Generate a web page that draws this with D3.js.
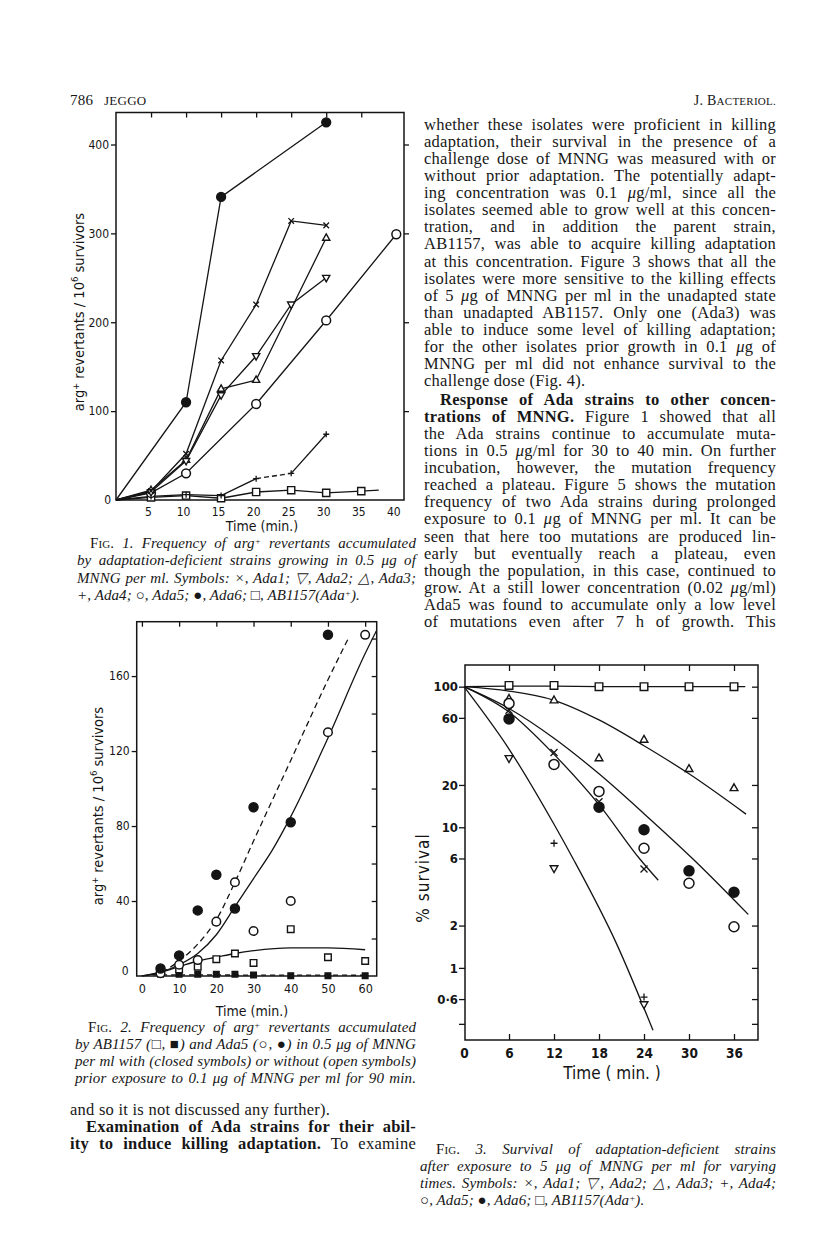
<!DOCTYPE html>
<html><head><meta charset="utf-8">
<script src="https://cdn.jsdelivr.net/npm/d3@7"></script>
<style>
body{margin:0;background:#fff;}
#page{position:relative;width:816px;height:1238px;overflow:hidden;background:#fff;}
#chart{position:absolute;left:0;top:0;}
.ln{position:absolute;font-family:"Liberation Serif","Times New Roman",serif;font-size:16.5px;letter-spacing:0.25px;line-height:17px;height:17px;color:#171717;white-space:nowrap;overflow:visible;}
.jus{text-align:justify;text-align-last:justify;white-space:normal;}
.cap{font-style:italic;letter-spacing:0.1px;}
.sc{font-variant:small-caps;font-style:normal;}
.sup{font-size:9px;vertical-align:0.45em;line-height:0;}
b{font-weight:bold;}
.tick text{font-family:"DejaVu Sans Condensed","DejaVu Sans",sans-serif;fill:#151515;}
</style></head>
<body><div id="page"><svg id="chart" width="816" height="1238"></svg></div>
<script>
// ---------------- DATA ----------------
// Fig. 1 : arg+ revertants / 10^6 survivors vs time (min)
const fig1XTicks = [5,10,15,20,25,30,35,40];
const fig1YTicks = [100,200,300,400];
const fig1Ada1 = [[0,0],[5,10],[10,52],[15,157],[20,220],[25,314],[30,309]];   // x
const fig1Ada2 = [[0,0],[5,9],[10,44],[15,118],[20,162],[25,220],[30,250]];   // inverted triangle
const fig1Ada3 = [[0,0],[5,11],[10,45],[15,125],[20,135],[30,295]];          // triangle
const fig1Ada4 = [[0,0],[5,4],[10,6],[15,5],[20,24],[25,30],[30,74]];        // +
const fig1Ada5 = [[0,0],[5,8],[10,30],[20,108],[30,202],[40,299]];            // open circle
const fig1Ada6 = [[0,0],[10,110],[15,341],[30,425]];                           // filled circle
const fig1AB1157 = [[0,0],[5,3],[10,5],[15,2],[20,9],[25,11],[30,8],[35,10]]; // square
const fig1AB1157Tail = [[35,10],[37.5,11]];

// Fig. 2
const fig2XTicks = [0,10,20,30,40,50,60];
const fig2YTicks = [40,80,120,160];
const fig2YMinor = [20,40,60,80,100,120,140,160,180];
const fig2Ada5Closed = [[5,4],[10,11],[15,35],[20,54],[25,36],[30,90],[40,82],[50,182]];
const fig2Ada5Open = [[5,1.5],[10,6],[15,8.5],[20,29],[25,50],[30,24],[40,40],[50,130],[60,182]];
const fig2ABOpen = [[5,2],[10,3.5],[15,5],[20,9],[25,12],[30,7],[40,25],[50,10],[60,8]];
const fig2ABClosed = [[5,1],[10,1],[15,1],[20,1],[25,1],[30,0.6],[40,0.2],[50,0.2],[60,0.2]];
const fig2FitAda5Closed = [[0,0],[5,2],[10,8],[15,17],[20,30],[25,50],[30,72],[40,115],[50,158],[55.7,181]];
const fig2FitAda5Open = [[0,0],[5,2],[10,6],[15,12],[20,22],[25,37],[30,52],[35,67],[40,85],[50,127],[60,172],[64,188]];
const fig2FitABOpen = [[0,0],[5,2],[10,5],[15,8],[20,10],[25,12],[30,13.5],[40,15],[50,15],[60,14]];
const fig2FitABClosed = [[3,0.6],[60,0.4]];

// Fig. 3 : % survival (log) vs time
const fig3XTicks = [0,6,12,18,24,30,36];
const fig3YTicks = [100,60,20,10,6,2,1,0.6,0.4];
const fig3YLabels = {100:"100",60:"60",20:"20",10:"10",6:"6",2:"2",1:"1",0.6:"0·6"};
const fig3AB1157 = [[6,102],[12,102],[18,100],[24,100],[30,100],[36,100]];
const fig3Ada3 = [[6,82],[12,80],[18,31],[24,42],[30,26],[36,19]];
const fig3Ada5 = [[6,76],[12,28],[18,18],[24,7.1],[30,4],[36,1.96]];
const fig3Ada6 = [[6,59],[18,13.9],[24,9.6],[30,4.9],[36,3.45]];
const fig3Ada1 = [[6,68],[12,34],[18,15.2],[24,5.05]];
const fig3Ada2 = [[6,31],[12,5.1],[24,0.55]];
const fig3Ada4 = [[12,7.7],[24,0.62]];
const fig3FitAB = [[0,100],[6,101],[12,101],[18,100],[24,100],[30,100],[37.5,100]];
const fig3FitAda3 = [[0,100],[6,93],[12,80],[18,58],[24,38],[30,24],[37.6,12.4]];
const fig3FitA = [[0,100],[6,70],[12,43],[18,24],[24,12.5],[30.6,5.9],[37.9,2.4]];
const fig3FitB = [[0,100],[6,66],[12,33],[18,14.5],[23.5,5.9],[25.9,4.2]];
const fig3FitC = [[0,100],[6,36],[12,10.5],[14.6,5.9],[20.3,1.5],[25.2,0.36]];

// ---------------- DRAWING ----------------
const ink = "#141414";
const svg = d3.select("#chart");

function symPath(type, s){
  switch(type){
    case "tri":  return `M0,${-s}L${s*0.9},${s*0.6}L${-s*0.9},${s*0.6}Z`;
    case "itri": return `M0,${s}L${s*0.9},${-s*0.6}L${-s*0.9},${-s*0.6}Z`;
    case "x":    return `M${-s},${-s}L${s},${s}M${s},${-s}L${-s},${s}`;
    case "plus": return `M${-s},0L${s},0M0,${-s}L0,${s}`;
    case "sq":   return `M${-s},${-s}H${s}V${s}H${-s}Z`;
    default: return "";
  }
}
function marks(g, data, x, y, type, s){
  const gg = g.append("g");
  if(type==="dot" || type==="circ"){
    gg.selectAll("circle").data(data).join("circle")
      .attr("cx", d=>x(d[0])).attr("cy", d=>y(d[1])).attr("r", s)
      .attr("fill", type==="dot"?ink:"#fff").attr("stroke", ink).attr("stroke-width", 1.5);
  } else {
    const filled = (type==="fsq");
    gg.selectAll("path").data(data).join("path")
      .attr("d", symPath(filled?"sq":type, s))
      .attr("transform", d=>`translate(${x(d[0])},${y(d[1])})`)
      .attr("fill", filled?ink:(type==="x"||type==="plus"?"none":"#fff"))
      .attr("stroke", ink).attr("stroke-width", type==="x"||type==="plus"?1.3:1.4);
  }
}
function pathLine(g, data, x, y, opts={}){
  const gen = d3.line().x(d=>x(d[0])).y(d=>y(d[1]));
  if(opts.curve) gen.curve(opts.curve);
  const p = g.append("path").datum(data).attr("d", gen).attr("fill","none")
    .attr("stroke", ink).attr("stroke-width", opts.w||1.3);
  if(opts.dash) p.attr("stroke-dasharray", opts.dash);
  if(opts.clip) p.attr("clip-path", opts.clip);
  return p;
}
function frame(g, x, y){
  const [x0,x1] = x.range(), [y0,y1] = y.range();
  g.append("rect").attr("x", Math.min(x0,x1)).attr("y", Math.min(y0,y1))
    .attr("width", Math.abs(x1-x0)).attr("height", Math.abs(y1-y0))
    .attr("fill","none").attr("stroke", ink).attr("stroke-width", 1.5);
}
function styleAxis(ax, fs){
  ax.select(".domain").remove();
  ax.selectAll(".tick line").attr("stroke", ink).attr("stroke-width", 1.3);
  ax.selectAll(".tick text").attr("font-size", fs);
  return ax;
}
function yLabelArg(g, tx, ty){
  const yl = g.append("text").attr("transform",`translate(${tx},${ty}) rotate(-90)`).attr("text-anchor","middle")
    .attr("font-family","DejaVu Sans Condensed").attr("font-size",14.5).attr("fill",ink);
  yl.append("tspan").text("arg");
  yl.append("tspan").attr("dy",-5).attr("font-size",9).text("+");
  yl.append("tspan").attr("dy",5).text(" revertants / 10");
  yl.append("tspan").attr("dy",-6).attr("font-size",9.5).text("6");
  yl.append("tspan").attr("dy",6).text(" survivors");
}

// ===== Fig 1 =====
{
  const x = d3.scaleLinear().domain([0,41.1]).range([116,404]);
  const y = d3.scaleLinear().domain([0,436]).range([500,112.5]);
  const g = svg.append("g");
  frame(g, x, y);
  const [L,R] = x.range(), [B,T] = y.range();
  styleAxis(g.append("g").attr("transform",`translate(${L},0)`).call(d3.axisLeft(y).tickValues(fig1YTicks).tickSize(5).tickPadding(2)), 12);
  g.append("g").attr("class","tick").append("text").attr("x", L-5).attr("y", y(0)+4).attr("text-anchor","end")
    .attr("font-size",12).attr("font-family","DejaVu Sans Condensed").attr("fill",ink).text("0");
  styleAxis(g.append("g").attr("transform",`translate(${R},0)`).call(d3.axisRight(y).tickValues(fig1YTicks).tickSize(5).tickFormat("")), 12);
  styleAxis(g.append("g").attr("transform",`translate(0,${T})`).call(d3.axisBottom(x).tickValues([5,10,15,20,25,30,35]).tickSize(5).tickFormat("")), 12);
  const bx = g.append("g").attr("transform",`translate(0,${B})`).call(d3.axisBottom(x).tickValues(fig1XTicks).tickSize(0).tickPadding(7));
  styleAxis(bx, 12); bx.selectAll(".tick text").attr("dx", -3);
  g.append("text").attr("x", 262).attr("y", 531).attr("text-anchor","middle")
    .attr("font-family","DejaVu Sans Condensed").attr("font-size",14).attr("fill",ink).text("Time (min.)");
  yLabelArg(g, 84, 312);

  pathLine(g, fig1AB1157, x, y); pathLine(g, fig1AB1157Tail, x, y);
  pathLine(g, fig1Ada4.slice(0,5), x, y);
  pathLine(g, fig1Ada4.slice(4,6), x, y, {dash:"5,3"});
  pathLine(g, fig1Ada4.slice(5), x, y);
  pathLine(g, fig1Ada5, x, y);
  pathLine(g, fig1Ada3, x, y);
  pathLine(g, fig1Ada2, x, y);
  pathLine(g, fig1Ada1, x, y);
  pathLine(g, fig1Ada6, x, y);
  marks(g, fig1AB1157.slice(1), x, y, "sq", 3.6);
  marks(g, fig1Ada4.slice(1), x, y, "plus", 3);
  marks(g, fig1Ada5.slice(1), x, y, "circ", 4.4);
  marks(g, fig1Ada3.slice(1), x, y, "tri", 4);
  marks(g, fig1Ada2.slice(1), x, y, "itri", 4);
  marks(g, fig1Ada1.slice(1), x, y, "x", 2.8);
  marks(g, fig1Ada6.slice(1), x, y, "dot", 4.4);
}

// ===== Fig 2 =====
{
  const x = d3.scaleLinear().domain([-1.4,63.1]).range([136.7,376.7]);
  const y = d3.scaleLinear().domain([0,189]).range([976,621.7]);
  const g = svg.append("g");
  svg.append("clipPath").attr("id","c2").append("rect").attr("x",136.7).attr("y",621.7).attr("width",240).attr("height",354.3);
  frame(g, x, y);
  const [L,R] = x.range(), [B,T] = y.range();
  styleAxis(g.append("g").attr("transform",`translate(${L},0)`).call(d3.axisLeft(y).tickValues(fig2YTicks).tickSize(5).tickPadding(2)), 12);
  g.append("g").attr("class","tick").append("text").attr("x", L-8).attr("y", y(0)-1).attr("text-anchor","end")
    .attr("font-size",12).attr("font-family","DejaVu Sans Condensed").attr("fill",ink).text("0");
  styleAxis(g.append("g").attr("transform",`translate(${R},0)`).call(d3.axisLeft(y).tickValues(fig2YMinor).tickSize(5).tickFormat("")), 12);
  styleAxis(g.append("g").attr("transform",`translate(0,${T})`).call(d3.axisBottom(x).tickValues(fig2XTicks).tickSize(5).tickFormat("")), 12);
  styleAxis(g.append("g").attr("transform",`translate(0,${B})`).call(d3.axisBottom(x).tickValues(fig2XTicks).tickSize(0).tickPadding(8)), 12.5);
  g.append("text").attr("x", 252).attr("y", 1016).attr("text-anchor","middle")
    .attr("font-family","DejaVu Sans Condensed").attr("font-size",14).attr("fill",ink).text("Time (min.)");
  yLabelArg(g, 103, 806);

  pathLine(g, fig2FitAda5Closed, x, y, {curve:d3.curveMonotoneX, dash:"6,4", clip:"url(#c2)"});
  pathLine(g, fig2FitAda5Open, x, y, {curve:d3.curveMonotoneX, clip:"url(#c2)"});
  pathLine(g, fig2FitABOpen, x, y, {curve:d3.curveMonotoneX});
  pathLine(g, fig2FitABClosed, x, y, {dash:"5,4"});
  marks(g, fig2ABClosed, x, y, "fsq", 2.8);
  marks(g, fig2ABOpen, x, y, "sq", 3.3);
  marks(g, fig2Ada5Open, x, y, "circ", 4.3);
  marks(g, fig2Ada5Closed, x, y, "dot", 4.5);
}

// ===== Fig 3 =====
{
  const x = d3.scaleLinear().domain([0.13,39.2]).range([465,758]);
  const y = d3.scaleLog().domain([0.307,142.6]).range([1040,665]);
  const g = svg.append("g");
  frame(g, x, y);
  const [L,R] = x.range(), [B,T] = y.range();
  styleAxis(g.append("g").attr("transform",`translate(${L},0)`).call(d3.axisLeft(y).tickValues(fig3YTicks).tickSize(6).tickPadding(1).tickFormat(d=>fig3YLabels[d]||"")), 13);
  styleAxis(g.append("g").attr("transform",`translate(${R},0)`).call(d3.axisLeft(y).tickValues(fig3YTicks).tickSize(6).tickFormat("")), 13);
  styleAxis(g.append("g").attr("transform",`translate(0,${T})`).call(d3.axisBottom(x).tickValues(fig3XTicks.slice(1)).tickSize(6).tickFormat("")), 13);
  styleAxis(g.append("g").attr("transform",`translate(0,${B})`).call(d3.axisTop(x).tickValues(fig3XTicks.slice(1)).tickSize(6).tickFormat("")), 13);
  const bx = g.append("g").attr("transform",`translate(0,${B})`).call(d3.axisBottom(x).tickValues(fig3XTicks).tickSize(0).tickPadding(8));
  styleAxis(bx, 13.5);
  g.selectAll(".tick text").attr("font-weight","bold");
  g.append("text").attr("x", 612).attr("y", 1079).attr("text-anchor","middle")
    .attr("font-family","DejaVu Sans Condensed").attr("font-size",17).attr("fill",ink).text("Time ( min. )");
  g.append("text").attr("transform","translate(429,878) rotate(-90)").attr("text-anchor","middle")
    .attr("font-family","DejaVu Sans Condensed").attr("font-size",17).attr("letter-spacing",1).attr("fill",ink).text("% survival");

  pathLine(g, fig3FitAB, x, y);
  pathLine(g, fig3FitAda3, x, y, {curve:d3.curveMonotoneX});
  pathLine(g, fig3FitA, x, y, {curve:d3.curveMonotoneX});
  pathLine(g, fig3FitB, x, y, {curve:d3.curveMonotoneX});
  pathLine(g, fig3FitC, x, y, {curve:d3.curveMonotoneX});
  marks(g, fig3AB1157, x, y, "sq", 3.8);
  marks(g, fig3Ada3, x, y, "tri", 4.3);
  marks(g, fig3Ada2, x, y, "itri", 4.3);
  marks(g, fig3Ada5, x, y, "circ", 5);
  marks(g, fig3Ada6, x, y, "dot", 5);
  marks(g, fig3Ada1, x, y, "x", 3.5);
  marks(g, fig3Ada4, x, y, "plus", 3.5);
}

// ---------------- TEXT ----------------
const page = d3.select("#page");
function line(x, yc, w, html, opt={}){
  const div = page.append("div").attr("class","ln"+(opt.cap?" cap":""))
    .style("left", x+"px").style("top",(yc-9)+"px").html(html);
  if(opt.fs) div.style("font-size", opt.fs+"px");
  const fs = parseFloat(getComputedStyle(div.node()).fontSize);
  // natural width; shrink font if it does not fit the measure
  const nat = div.node().getBoundingClientRect().width;
  if(nat > w-2){ div.style("font-size", (fs*(w-2)/nat)+"px"); }
  div.style("width", w+"px");
  if(opt.j !== false) div.classed("jus", true);
}
const headerLeft = ["786", "JEGGO"];
const headerRight = 'J. B<span style="font-size:11px">ACTERIOL.</span>';
line(70, 101, 40, headerLeft[0], {j:false, fs:15});
line(104, 101, 80, headerLeft[1], {j:false, fs:13});
page.append("div").attr("class","ln").style("left","600px").style("top","92px").style("width","176px")
  .style("text-align","right").style("font-size","14px").html(headerRight);

const col2Para1 = [
"whether these isolates were proficient in killing",
"adaptation, their survival in the presence of a",
"challenge dose of MNNG was measured with or",
"without prior adaptation. The potentially adapt-",
"ing concentration was 0.1 <i>μ</i>g/ml, since all the",
"isolates seemed able to grow well at this concen-",
"tration, and in addition the parent strain,",
"AB1157, was able to acquire killing adaptation",
"at this concentration. Figure 3 shows that all the",
"isolates were more sensitive to the killing effects",
"of 5 <i>μ</i>g of MNNG per ml in the unadapted state",
"than unadapted AB1157. Only one (Ada3) was",
"able to induce some level of killing adaptation;",
"for the other isolates prior growth in 0.1 <i>μ</i>g of",
"MNNG per ml did not enhance survival to the",
"challenge dose (Fig. 4)."];
const col2Para2 = [
"<b>Response of Ada strains to other concen-</b>",
"<b>trations of MNNG.</b> Figure 1 showed that all",
"the Ada strains continue to accumulate muta-",
"tions in 0.5 <i>μ</i>g/ml for 30 to 40 min. On further",
"incubation, however, the mutation frequency",
"reached a plateau. Figure 5 shows the mutation",
"frequency of two Ada strains during prolonged",
"exposure to 0.1 <i>μ</i>g of MNNG per ml. It can be",
"seen that here too mutations are produced lin-",
"early but eventually reach a plateau, even",
"though the population, in this case, continued to",
"grow. At a still lower concentration (0.02 <i>μ</i>g/ml)",
"Ada5 was found to accumulate only a low level",
"of mutations even after 7 h of growth. This"];
col2Para1.forEach((t,i)=>line(424, 125+i*17.07, 352, t, {j:i<col2Para1.length-1}));
col2Para2.forEach((t,i)=>line(i===0?440:424, 400+i*17.07, i===0?336:352, t));

const cap1 = [
'<span class="sc">Fig.</span> 1. Frequency of arg<span class="sup">+</span> revertants accumulated',
"by adaptation-deficient strains growing in 0.5 μg of",
"MNNG per ml. Symbols: ×, Ada1; ▽, Ada2; △, Ada3;",
"+, Ada4; ○, Ada5; ●, Ada6; □, AB1157(Ada<span class=\"sup\">+</span>)."];
cap1.forEach((t,i)=>line(i===0?90:77, 544+i*17.3, i===0?326:339, t, {cap:true, fs:15, j:i<3}));

const cap2 = [
'<span class="sc">Fig.</span> 2. Frequency of arg<span class="sup">+</span> revertants accumulated',
"by AB1157 (□, ■) and Ada5 (○, ●) in 0.5 μg of MNNG",
"per ml with (closed symbols) or without (open symbols)",
"prior exposure to 0.1 μg of MNNG per ml for 90 min."];
cap2.forEach((t,i)=>line(i===0?88:75, 1028+i*17, i===0?328:341, t, {cap:true, fs:15}));

const col1Tail = [
"and so it is not discussed any further).",
"<b>Examination of Ada strains for their abil-</b>",
"<b>ity to induce killing adaptation.</b> To examine"];
col1Tail.forEach((t,i)=>line(i===1?86:70, 1110+i*17.07, i===1?330:346, t, {j:i>0}));

const cap3 = [
'<span class="sc">Fig.</span> 3. Survival of adaptation-deficient strains',
"after exposure to 5 μg of MNNG per ml for varying",
"times. Symbols: ×, Ada1; ▽, Ada2; △, Ada3; +, Ada4;",
"○, Ada5; ●, Ada6; □, AB1157(Ada<span class=\"sup\">+</span>)."];
cap3.forEach((t,i)=>line(i===0?436:420, 1150+i*17, i===0?340:356, t, {cap:true, fs:15, j:i<3}));
</script>
</body></html>
